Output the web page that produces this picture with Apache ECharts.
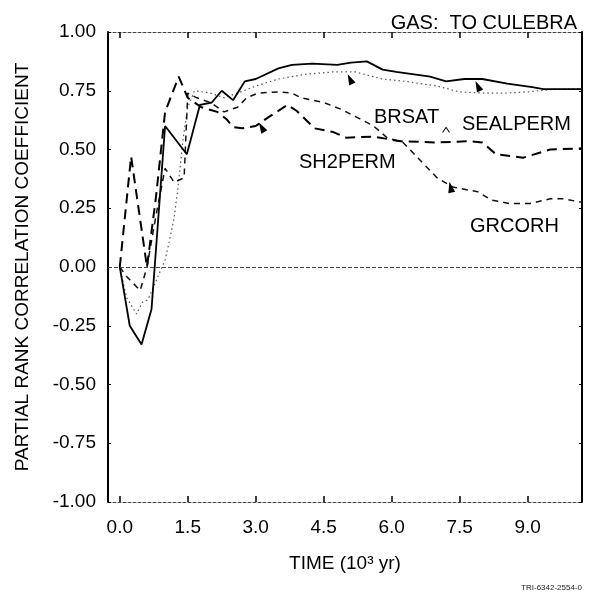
<!DOCTYPE html>
<html>
<head>
<meta charset="utf-8">
<script src="https://cdn.jsdelivr.net/npm/echarts@6/dist/echarts.min.js"></script>
<style>
  html, body { margin: 0; padding: 0; background: #fff; }
  #chart { width: 594px; height: 595px; }
</style>
</head>
<body>
<div id="chart"></div>
<script>
// Time axis (10^3 yr) tick positions
const xTicks = [0, 1.5, 3.0, 4.5, 6.0, 7.5, 9.0];

// BRSAT (solid)
const brsatT = [0, 0.22, 0.48, 0.70, 0.77, 1.0, 1.48, 1.77, 2.03, 2.25, 2.5, 2.76, 3.0, 3.5, 3.8, 4.25, 4.8, 5.1, 5.45, 5.6, 5.8, 6.1, 6.85, 7.2, 7.6, 8.0, 8.55, 9.1, 9.35, 10.2];
const brsatV = [0, -0.25, -0.33, -0.18, 0, 0.60, 0.48, 0.69, 0.70, 0.75, 0.71, 0.79, 0.80, 0.845, 0.86, 0.865, 0.86, 0.87, 0.875, 0.86, 0.84, 0.83, 0.81, 0.79, 0.80, 0.80, 0.78, 0.765, 0.757, 0.757];

// SH2PERM (long dashes)
const sh2permT = [0, 0.25, 0.6, 0.8, 1.0, 1.3, 1.5, 1.8, 2.15, 2.35, 2.5, 2.7, 3.0, 3.3, 3.7, 3.9, 4.3, 4.7, 5.0, 5.6, 6.2, 7.0, 7.7, 8.0, 8.3, 8.9, 9.5, 10.2];
const sh2permV = [0, 0.47, 0.0, 0.30, 0.66, 0.81, 0.72, 0.68, 0.66, 0.63, 0.595, 0.59, 0.60, 0.64, 0.69, 0.665, 0.59, 0.575, 0.55, 0.555, 0.535, 0.53, 0.535, 0.53, 0.48, 0.465, 0.50, 0.505];

// GRCORH (medium dashes)
const grcorhT = [0, 0.15, 0.45, 0.6, 0.8, 1.0, 1.2, 1.42, 1.5, 1.7, 2.0, 2.3, 2.6, 2.8, 3.05, 3.5, 3.8, 4.0, 4.5, 4.9, 5.3, 5.6, 5.9, 6.25, 6.5, 7.0, 7.35, 7.9, 8.2, 8.6, 9.05, 9.5, 9.8, 10.2];
const grcorhV = [0, -0.04, -0.10, 0.0, 0.22, 0.42, 0.36, 0.38, 0.74, 0.72, 0.70, 0.66, 0.68, 0.72, 0.74, 0.745, 0.74, 0.72, 0.70, 0.67, 0.63, 0.60, 0.55, 0.53, 0.48, 0.38, 0.34, 0.32, 0.285, 0.27, 0.27, 0.29, 0.29, 0.275];

// SEALPERM (dotted)
const sealpermT = [0, 0.15, 0.37, 0.5, 0.62, 1.0, 1.1, 1.2, 1.28, 1.4, 1.5, 1.65, 2.0, 2.3, 2.6, 3.0, 3.5, 4.1, 4.7, 5.2, 5.8, 6.3, 7.0, 7.5, 8.0, 8.5, 9.0, 9.5, 10.2];
const sealpermV = [0, -0.13, -0.20, -0.15, -0.14, 0.03, 0.115, 0.21, 0.33, 0.55, 0.68, 0.75, 0.74, 0.72, 0.74, 0.77, 0.80, 0.82, 0.83, 0.83, 0.80, 0.79, 0.77, 0.745, 0.74, 0.74, 0.745, 0.755, 0.76];

// Arrowheads of the label leaders, in data coordinates
const arrowT = [5.08, 7.9, 3.13, 7.3];
const arrowV = [0.80, 0.77, 0.595, 0.34];
const arrowTilt = [25, 25, 30, 12];

const pairs = (t, v) => t.map((x, i) => [x, v[i]]);

const FONT = '"Liberation Sans", Arial, Helvetica, sans-serif';

const chart = echarts.init(document.getElementById('chart'), null, { renderer: 'canvas' });

const tickStyle = { color: '#000', width: 1.5 };

chart.setOption({
  animation: false,
  backgroundColor: '#fff',
  textStyle: { fontFamily: FONT, color: '#000' },
  title: {
    text: 'GAS:  TO CULEBRA',
    right: 12,
    top: 8,
    textStyle: { fontFamily: FONT, fontSize: 20, fontWeight: 'normal', color: '#000' }
  },
  grid: { left: 108, right: 12, top: 32, bottom: 93 },
  xAxis: [
    {
      type: 'value', position: 'bottom', min: -0.26, max: 10.2,
      name: 'TIME (10³ yr)', nameLocation: 'middle', nameGap: 52,
      nameTextStyle: { fontFamily: FONT, fontSize: 19, color: '#000' },
      axisLine: { show: true, onZero: false, lineStyle: { color: '#444', width: 1, type: [3, 2] } },
      axisTick: { show: true, inside: true, length: 6, customValues: xTicks, lineStyle: tickStyle },
      axisLabel: { customValues: xTicks, formatter: v => v.toFixed(1), fontSize: 19, color: '#000', margin: 16, fontFamily: FONT },
      splitLine: { show: false }
    },
    {
      type: 'value', position: 'top', min: -0.26, max: 10.2,
      axisLine: { show: true, onZero: false, lineStyle: { color: '#444', width: 1, type: [3, 2] } },
      axisTick: { show: true, inside: true, length: 6, customValues: xTicks, lineStyle: tickStyle },
      axisLabel: { show: false },
      splitLine: { show: false }
    }
  ],
  yAxis: [
    {
      type: 'value', position: 'left', min: -1, max: 1, interval: 0.25,
      name: 'PARTIAL RANK CORRELATION COEFFICIENT', nameLocation: 'middle', nameRotate: 90, nameGap: 76,
      nameTextStyle: { fontFamily: FONT, fontSize: 19, color: '#000' },
      axisLine: { show: true, onZero: false, lineStyle: { color: '#000', width: 2 } },
      axisTick: { show: true, inside: true, length: 3, lineStyle: { color: '#000', width: 1 } },
      axisLabel: { formatter: v => v.toFixed(2), fontSize: 19, color: '#000', margin: 12, fontFamily: FONT },
      splitLine: { show: false }
    },
    {
      type: 'value', position: 'right', min: -1, max: 1, interval: 0.25,
      axisLine: { show: true, onZero: false, lineStyle: { color: '#000', width: 2 } },
      axisTick: { show: true, inside: true, length: 3, lineStyle: { color: '#000', width: 1 } },
      axisLabel: { show: false },
      splitLine: { show: false }
    }
  ],
  series: [
    {
      name: 'SEALPERM', type: 'line', data: pairs(sealpermT, sealpermV),
      showSymbol: false, symbol: 'none',
      lineStyle: { color: '#555', width: 1.2, type: [1.5, 3] },
      markLine: {
        silent: true, symbol: ['none', 'none'], label: { show: false },
        lineStyle: { color: '#444', width: 1, type: [4, 2] },
        data: [{ yAxis: 0 }]
      }
    },
    {
      name: 'GRCORH', type: 'line', data: pairs(grcorhT, grcorhV),
      showSymbol: false, symbol: 'none',
      lineStyle: { color: '#111', width: 1.5, type: [6, 5] }
    },
    {
      name: 'SH2PERM', type: 'line', data: pairs(sh2permT, sh2permV),
      showSymbol: false, symbol: 'none',
      lineStyle: { color: '#000', width: 2, type: [10, 6] }
    },
    {
      name: 'BRSAT', type: 'line', data: pairs(brsatT, brsatV),
      showSymbol: false, symbol: 'none',
      lineStyle: { color: '#000', width: 1.8 },
      markPoint: {
        silent: true,
        label: { show: false },
        itemStyle: { color: '#000' },
        data: arrowT.map((t, i) => ({
          coord: [t, arrowV[i]], symbol: 'triangle', symbolSize: [7, 11], symbolRotate: arrowTilt[i]
        })).concat([{
          coord: [7.2, 0.585], symbol: 'path://M0,10 L5,0 L10,10 L8.6,10 L5,3 L1.4,10 Z', symbolSize: [8, 6]
        }])
      }
    }
  ],
  graphic: [
    { type: 'text', x: 374, y: 117, style: { text: 'BRSAT', font: '20px ' + FONT, fill: '#000', verticalAlign: 'middle' } },
    { type: 'text', x: 462, y: 124, style: { text: 'SEALPERM', font: '20px ' + FONT, fill: '#000', verticalAlign: 'middle' } },
    { type: 'text', x: 299, y: 162, style: { text: 'SH2PERM', font: '20px ' + FONT, fill: '#000', verticalAlign: 'middle' } },
    { type: 'text', x: 470, y: 226, style: { text: 'GRCORH', font: '20px ' + FONT, fill: '#000', verticalAlign: 'middle' } },
    { type: 'text', x: 582, y: 588, style: { text: 'TRI-6342-2554-0', font: '8px ' + FONT, fill: '#222', align: 'right', verticalAlign: 'middle' } }
  ]
});
</script>
</body>
</html>
